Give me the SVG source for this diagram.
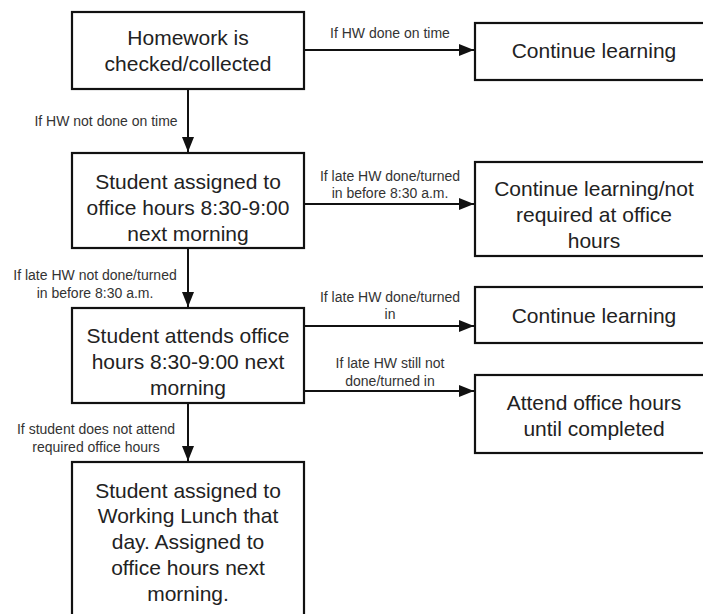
<svg xmlns="http://www.w3.org/2000/svg" width="703" height="614" viewBox="0 0 703 614">
<style>
.box{fill:#fff;stroke:#111;stroke-width:2.2}
.t{font-family:"Liberation Sans",Arial,sans-serif;font-size:21px;fill:#222;text-anchor:middle;dominant-baseline:central}
.l{font-family:"Liberation Sans",Arial,sans-serif;font-size:14px;fill:#333;text-anchor:middle;dominant-baseline:central}
.c{stroke:#111;stroke-width:2;fill:none}
</style>
<defs>
<marker id="ah" markerUnits="userSpaceOnUse" markerWidth="16" markerHeight="12" refX="15" refY="6" orient="auto">
<path d="M0,0 L15,6 L0,12 z" fill="#111"/>
</marker>
</defs>
<rect width="703" height="614" fill="#fff"/>
<g id="connectors">
<line class="c" x1="304" y1="50" x2="474" y2="50" marker-end="url(#ah)"/>
<line class="c" x1="188" y1="89" x2="188" y2="152" marker-end="url(#ah)"/>
<line class="c" x1="304" y1="204" x2="474" y2="204" marker-end="url(#ah)"/>
<line class="c" x1="188" y1="248" x2="188" y2="307" marker-end="url(#ah)"/>
<line class="c" x1="304" y1="326" x2="474" y2="326" marker-end="url(#ah)"/>
<line class="c" x1="304" y1="391" x2="474" y2="391" marker-end="url(#ah)"/>
<line class="c" x1="188" y1="403" x2="188" y2="461" marker-end="url(#ah)"/>
<text class="l" x="390" y="33">If HW done on time</text>
<text class="l" x="106" y="121">If HW not done on time</text>
<text class="l" x="390" y="176">If late HW done/turned</text>
<text class="l" x="390" y="193">in before 8:30 a.m.</text>
<text class="l" x="95" y="275">If late HW not done/turned</text>
<text class="l" x="95" y="293">in before 8:30 a.m.</text>
<text class="l" x="390" y="297">If late HW done/turned</text>
<text class="l" x="390" y="314">in</text>
<text class="l" x="390" y="363">If late HW still not</text>
<text class="l" x="390" y="381">done/turned in</text>
<text class="l" x="96" y="429">If student does not attend</text>
<text class="l" x="96" y="447">required office hours</text>
</g>
<g id="n1">
<rect class="box" x="72" y="12" width="232" height="77"/>
<text class="t" x="188" y="37">Homework is</text>
<text class="t" x="188" y="63">checked/collected</text>
</g>
<g id="n2">
<rect class="box" x="475" y="23" width="240" height="57"/>
<text class="t" x="594" y="50">Continue learning</text>
</g>
<g id="n3">
<rect class="box" x="72" y="153" width="232" height="95"/>
<text class="t" x="188" y="181">Student assigned to</text>
<text class="t" x="188" y="207">office hours 8:30-9:00</text>
<text class="t" x="188" y="233">next morning</text>
</g>
<g id="n4">
<rect class="box" x="475" y="162" width="240" height="94"/>
<text class="t" x="594" y="188">Continue learning/not</text>
<text class="t" x="594" y="214">required at office</text>
<text class="t" x="594" y="240">hours</text>
</g>
<g id="n5">
<rect class="box" x="72" y="308" width="232" height="95"/>
<text class="t" x="188" y="335">Student attends office</text>
<text class="t" x="188" y="361">hours 8:30-9:00 next</text>
<text class="t" x="188" y="387">morning</text>
</g>
<g id="n6">
<rect class="box" x="475" y="287" width="240" height="56"/>
<text class="t" x="594" y="315">Continue learning</text>
</g>
<g id="n7">
<rect class="box" x="475" y="375" width="240" height="78"/>
<text class="t" x="594" y="402">Attend office hours</text>
<text class="t" x="594" y="428">until completed</text>
</g>
<g id="n8">
<rect class="box" x="72" y="462" width="232" height="170"/>
<text class="t" x="188" y="490">Student assigned to</text>
<text class="t" x="188" y="515">Working Lunch that</text>
<text class="t" x="188" y="541">day. Assigned to</text>
<text class="t" x="188" y="567">office hours next</text>
<text class="t" x="188" y="593">morning.</text>
</g>
</svg>
